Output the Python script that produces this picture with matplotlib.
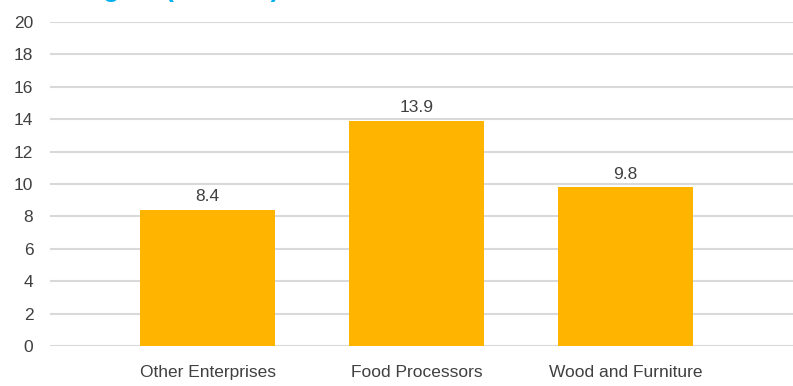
import matplotlib.pyplot as plt
import numpy as np

plt.rcParams['font.family'] = ['Liberation Sans', 'DejaVu Sans']

categories = ["Other Enterprises", "Food Processors", "Wood and Furniture"]
values = [8.4, 13.9, 9.8]
yticks = [0, 2, 4, 6, 8, 10, 12, 14, 16, 18, 20]

text_color = "#404040"
bar_color = "#FFB500"
grid_color = "#D9D9D9"

fig = plt.figure(figsize=(7.93, 3.86), dpi=100)
ax = fig.add_axes([50 / 793, 40 / 386, 743 / 793, 324 / 386])

x = np.arange(len(categories))
bars = ax.bar(x, values, width=0.646, color=bar_color, zorder=2)

for b, v in zip(bars, values):
    ax.annotate(f"{v:.1f}", (b.get_x() + b.get_width() / 2, v),
                xytext=(0, 4), textcoords="offset points",
                ha="center", va="bottom", fontsize=12.5, color=text_color)

ax.set_xlim(-0.754, 2.801)
ax.set_ylim(0, 20)
ax.set_yticks(yticks)
ax.set_xticks(x)
ax.set_xticklabels(categories)
ax.yaxis.grid(True, color=grid_color, linewidth=1.5, zorder=0)
ax.set_axisbelow(True)

for s in ax.spines.values():
    s.set_visible(False)
ax.tick_params(axis="both", length=0, labelsize=12.5, colors=text_color)
ax.tick_params(axis="y", pad=12)
ax.tick_params(axis="x", pad=14)

# chart heading sits mostly above the top edge
fig.text(279 / 793, 1 + 3 / 386, "Profit Margins (Percent)", ha="right",
         va="baseline", fontsize=19, fontweight="bold", color="#00B0F0")

fig.savefig("out.png", dpi=100)
